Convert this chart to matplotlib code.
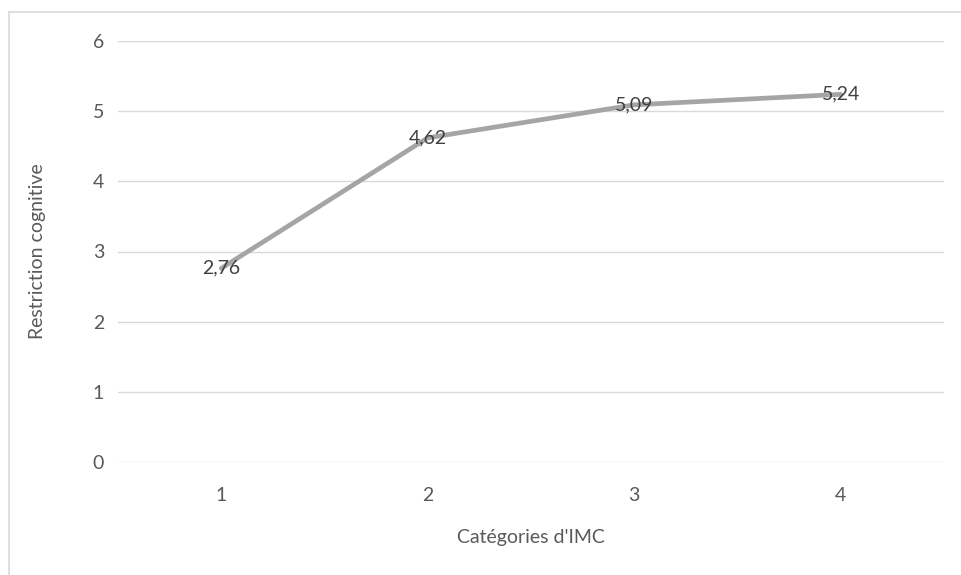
import matplotlib
matplotlib.use('Agg')
import matplotlib.pyplot as plt
from matplotlib.lines import Line2D

plt.rcParams['font.family'] = ['Lato', 'DejaVu Sans']

categories = ['1', '2', '3', '4']
values = [2.76, 4.62, 5.09, 5.24]
yticks = [0, 1, 2, 3, 4, 5, 6]

fig = plt.figure(figsize=(9.62, 5.75), dpi=100)
ax = fig.add_axes([118/962, 113/575, (944-118)/962, (462-41)/575])

x = list(range(1, len(categories) + 1))
ax.plot(x, values, color='#A5A5A5', linewidth=3.4, solid_capstyle='round', zorder=3)

for xi, v in zip(x, values):
    ax.text(xi, v, f'{v:.2f}'.replace('.', ','), ha='center', va='center',
            fontsize=14, color='#404040', zorder=4)

ax.set_xlim(0.5, len(categories) + 0.5)
ax.set_ylim(0, 6)
ax.set_xticks(x)
ax.set_xticklabels(categories)
ax.set_yticks(yticks)
ax.set_yticklabels([str(t) for t in yticks])
ax.tick_params(length=0, labelsize=14, labelcolor='#595959')
ax.tick_params(axis='x', pad=18)
ax.tick_params(axis='y', pad=10)
ax.grid(axis='y', color='#D9D9D9', linewidth=1.0)
ax.set_axisbelow(True)
for s in ax.spines.values():
    s.set_visible(False)

ax.set_xlabel("Catégories d'IMC", fontsize=14, color='#595959', labelpad=18)
ax.set_ylabel('Restriction cognitive', fontsize=14, color='#595959', labelpad=34)

# chart area border (only top and left edges visible)
fig.add_artist(Line2D([8.5/962, 8.5/962], [0, (575-11.5)/575], transform=fig.transFigure,
                      color='#D9D9D9', linewidth=1.2))
fig.add_artist(Line2D([8.5/962, 1], [(575-11.5)/575, (575-11.5)/575], transform=fig.transFigure,
                      color='#D9D9D9', linewidth=1.2))

fig.savefig('out.png', dpi=100)
